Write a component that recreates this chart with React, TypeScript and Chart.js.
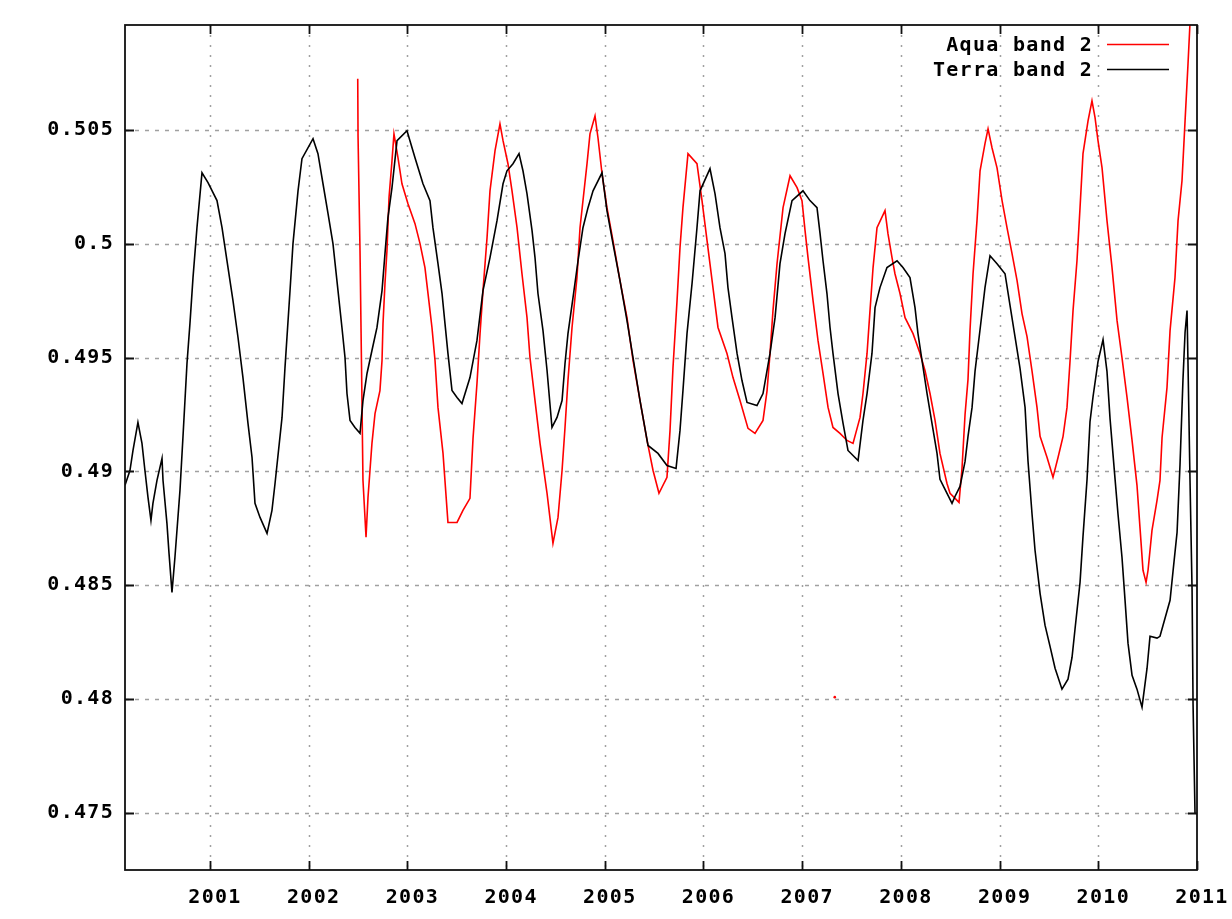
import React, { useEffect, useRef } from "react";
import { Chart, registerables } from "chart.js";

Chart.register(...registerables);

// Decimal-year sample times and reflectance values, Terra MODIS band 2
const terraYears = [
  2000.139, 2000.189, 2000.220, 2000.270, 2000.311, 2000.341, 2000.372, 2000.402, 2000.422, 2000.463,
  2000.514, 2000.524, 2000.564, 2000.585, 2000.615, 2000.645, 2000.696, 2000.726, 2000.767, 2000.797,
  2000.828, 2000.868, 2000.919, 2000.980, 2001.071, 2001.122, 2001.172, 2001.233, 2001.284, 2001.334,
  2001.385, 2001.426, 2001.456, 2001.507, 2001.578, 2001.628, 2001.659, 2001.730, 2001.760, 2001.811,
  2001.841, 2001.892, 2001.932, 2002.044, 2002.094, 2002.145, 2002.196, 2002.246, 2002.297, 2002.337,
  2002.368, 2002.388, 2002.419, 2002.469, 2002.520, 2002.550, 2002.591, 2002.641, 2002.692, 2002.743,
  2002.773, 2002.803, 2002.844, 2002.895, 2002.996, 2003.077, 2003.158, 2003.229, 2003.259, 2003.310,
  2003.351, 2003.381, 2003.411, 2003.452, 2003.503, 2003.553, 2003.634, 2003.705, 2003.766, 2003.837,
  2003.908, 2003.969, 2004.009, 2004.070, 2004.131, 2004.171, 2004.212, 2004.263, 2004.293, 2004.323,
  2004.374, 2004.415, 2004.465, 2004.516, 2004.567, 2004.597, 2004.627, 2004.678, 2004.729, 2004.779,
  2004.830, 2004.881, 2004.972, 2005.022, 2005.083, 2005.154, 2005.225, 2005.286, 2005.357, 2005.438,
  2005.539, 2005.630, 2005.722, 2005.762, 2005.792, 2005.833, 2005.884, 2005.934, 2005.965, 2006.066,
  2006.117, 2006.167, 2006.218, 2006.248, 2006.289, 2006.340, 2006.390, 2006.441, 2006.542, 2006.603,
  2006.674, 2006.725, 2006.775, 2006.826, 2006.897, 2007.008, 2007.079, 2007.150, 2007.181, 2007.211,
  2007.251, 2007.282, 2007.312, 2007.363, 2007.414, 2007.464, 2007.566, 2007.616, 2007.657, 2007.707,
  2007.738, 2007.788, 2007.859, 2007.961, 2008.021, 2008.092, 2008.143, 2008.173, 2008.214, 2008.265,
  2008.315, 2008.366, 2008.396, 2008.447, 2008.518, 2008.548, 2008.599, 2008.650, 2008.680, 2008.721,
  2008.751, 2008.802, 2008.852, 2008.903, 2008.974, 2009.055, 2009.106, 2009.156, 2009.207, 2009.258,
  2009.288, 2009.329, 2009.359, 2009.410, 2009.460, 2009.511, 2009.562, 2009.632, 2009.693, 2009.734,
  2009.764, 2009.815, 2009.845, 2009.886, 2009.916, 2009.947, 2009.997, 2010.048, 2010.088, 2010.119,
  2010.170, 2010.200, 2010.240, 2010.271, 2010.301, 2010.342, 2010.392, 2010.443, 2010.494, 2010.524,
  2010.595, 2010.625, 2010.676, 2010.727, 2010.757, 2010.798, 2010.828, 2010.858, 2010.879, 2010.899,
  2010.909, 2010.929, 2010.950, 2010.960, 2010.980,
];

const terraValues = [
  0.48939, 0.49004, 0.49092, 0.49215, 0.49123, 0.49004, 0.48886, 0.48785, 0.48860, 0.48961,
  0.49057, 0.48961, 0.48772, 0.48640, 0.48469, 0.48623, 0.48917, 0.49149, 0.49474, 0.49649,
  0.49851, 0.50070, 0.50311, 0.50268, 0.50189, 0.50070, 0.49925, 0.49750, 0.49588, 0.49412,
  0.49211, 0.49061, 0.48860, 0.48798, 0.48728, 0.48829, 0.48947, 0.49237, 0.49456, 0.49794,
  0.50000, 0.50232, 0.50373, 0.50461, 0.50395, 0.50263, 0.50132, 0.50000, 0.49794, 0.49632,
  0.49500, 0.49342, 0.49224, 0.49193, 0.49167, 0.49311, 0.49430, 0.49531, 0.49632, 0.49794,
  0.49956, 0.50114, 0.50246, 0.50452, 0.50496, 0.50377, 0.50263, 0.50189, 0.50070, 0.49912,
  0.49781, 0.49649, 0.49518, 0.49355, 0.49325, 0.49298, 0.49412, 0.49575, 0.49794, 0.49939,
  0.50101, 0.50263, 0.50320, 0.50351, 0.50395, 0.50320, 0.50219, 0.50057, 0.49939, 0.49781,
  0.49618, 0.49443, 0.49193, 0.49237, 0.49311, 0.49474, 0.49605, 0.49763, 0.49925, 0.50070,
  0.50158, 0.50232, 0.50311, 0.50145, 0.50000, 0.49838, 0.49662, 0.49500, 0.49311, 0.49114,
  0.49079, 0.49026, 0.49013, 0.49180, 0.49355, 0.49605, 0.49825, 0.50070, 0.50232, 0.50329,
  0.50219, 0.50070, 0.49956, 0.49807, 0.49675, 0.49518, 0.49399, 0.49303, 0.49289, 0.49342,
  0.49518, 0.49675, 0.49912, 0.50044, 0.50189, 0.50232, 0.50189, 0.50158, 0.50044, 0.49925,
  0.49781, 0.49632, 0.49518, 0.49342, 0.49211, 0.49092, 0.49048, 0.49224, 0.49342, 0.49518,
  0.49719, 0.49807, 0.49895, 0.49925, 0.49895, 0.49851, 0.49719, 0.49605, 0.49487, 0.49342,
  0.49211, 0.49079, 0.48965, 0.48921, 0.48860, 0.48890, 0.48934, 0.49044, 0.49154, 0.49281,
  0.49439, 0.49623, 0.49807, 0.49947, 0.49912, 0.49868, 0.49728, 0.49592, 0.49452, 0.49281,
  0.49044, 0.48811, 0.48654, 0.48465, 0.48325, 0.48232, 0.48136, 0.48044, 0.48088, 0.48184,
  0.48307, 0.48513, 0.48715, 0.48965, 0.49219, 0.49329, 0.49482, 0.49579, 0.49439, 0.49232,
  0.48965, 0.48811, 0.48623, 0.48434, 0.48246, 0.48105, 0.48044, 0.47965, 0.48136, 0.48276,
  0.48268, 0.48276, 0.48355, 0.48434, 0.48561, 0.48732, 0.49031, 0.49404, 0.49610, 0.49706,
  0.49469, 0.48965, 0.48482, 0.47978, 0.47496,
];

// Aqua MODIS band 2
const aquaYears = [
  2002.497, 2002.500, 2002.520, 2002.535, 2002.550, 2002.581, 2002.601, 2002.621, 2002.641, 2002.672,
  2002.722, 2002.743, 2002.753, 2002.773, 2002.793, 2002.814, 2002.844, 2002.864, 2002.905, 2002.945,
  2003.006, 2003.077, 2003.128, 2003.178, 2003.209, 2003.249, 2003.280, 2003.310, 2003.361, 2003.411,
  2003.503, 2003.563, 2003.634, 2003.665, 2003.705, 2003.736, 2003.766, 2003.807, 2003.837, 2003.888,
  2003.938, 2003.969, 2004.019, 2004.060, 2004.111, 2004.161, 2004.212, 2004.242, 2004.293, 2004.344,
  2004.415, 2004.475, 2004.526, 2004.567, 2004.597, 2004.627, 2004.668, 2004.718, 2004.749, 2004.820,
  2004.850, 2004.901, 2004.931, 2004.972, 2005.022, 2005.083, 2005.154, 2005.225, 2005.286, 2005.357,
  2005.428, 2005.489, 2005.549, 2005.630, 2005.661, 2005.691, 2005.732, 2005.762, 2005.792, 2005.843,
  2005.934, 2005.985, 2006.036, 2006.096, 2006.147, 2006.238, 2006.299, 2006.370, 2006.451, 2006.522,
  2006.603, 2006.644, 2006.674, 2006.704, 2006.745, 2006.806, 2006.877, 2006.948, 2006.998, 2007.029,
  2007.059, 2007.110, 2007.160, 2007.211, 2007.262, 2007.312, 2007.383, 2007.454, 2007.515, 2007.586,
  2007.616, 2007.657, 2007.687, 2007.718, 2007.758, 2007.839, 2007.869, 2007.910, 2007.940, 2007.991,
  2008.042, 2008.123, 2008.194, 2008.244, 2008.295, 2008.346, 2008.396, 2008.467, 2008.498, 2008.589,
  2008.619, 2008.650, 2008.680, 2008.700, 2008.731, 2008.771, 2008.802, 2008.852, 2008.883, 2008.923,
  2008.974, 2009.025, 2009.075, 2009.126, 2009.177, 2009.227, 2009.278, 2009.329, 2009.379, 2009.410,
  2009.481, 2009.541, 2009.592, 2009.643, 2009.683, 2009.714, 2009.744, 2009.784, 2009.815, 2009.845,
  2009.896, 2009.936, 2009.967, 2009.997, 2010.038, 2010.088, 2010.139, 2010.190, 2010.240, 2010.291,
  2010.342, 2010.392, 2010.423, 2010.453, 2010.484, 2010.504, 2010.544, 2010.595, 2010.625, 2010.646,
  2010.696, 2010.727, 2010.777, 2010.808, 2010.848, 2010.879, 2010.909, 2010.940,
];

const aquaValues = [
  0.50724, 0.50474, 0.49969, 0.49474, 0.48961, 0.48711, 0.48886, 0.49004, 0.49123, 0.49254,
  0.49355, 0.49487, 0.49649, 0.49825, 0.49969, 0.50202, 0.50364, 0.50482, 0.50377, 0.50263,
  0.50175, 0.50088, 0.50000, 0.49895, 0.49781, 0.49632, 0.49487, 0.49281, 0.49079, 0.48776,
  0.48776, 0.48829, 0.48882, 0.49145, 0.49386, 0.49605, 0.49794, 0.50026, 0.50232, 0.50408,
  0.50526, 0.50452, 0.50351, 0.50232, 0.50070, 0.49868, 0.49675, 0.49500, 0.49311, 0.49123,
  0.48904, 0.48684, 0.48798, 0.49004, 0.49193, 0.49399, 0.49632, 0.49851, 0.50070, 0.50351,
  0.50482, 0.50561, 0.50465, 0.50307, 0.50158, 0.50013, 0.49838, 0.49675, 0.49487, 0.49311,
  0.49136, 0.49004, 0.48904, 0.48974, 0.49180, 0.49456, 0.49750, 0.49982, 0.50158, 0.50395,
  0.50351, 0.50189, 0.50013, 0.49807, 0.49632, 0.49518, 0.49412, 0.49311, 0.49189, 0.49167,
  0.49224, 0.49355, 0.49518, 0.49706, 0.49912, 0.50158, 0.50298, 0.50246, 0.50189, 0.50057,
  0.49939, 0.49750, 0.49575, 0.49430, 0.49281, 0.49193, 0.49167, 0.49136, 0.49123, 0.49237,
  0.49342, 0.49518, 0.49706, 0.49895, 0.50070, 0.50145, 0.50044, 0.49939, 0.49868, 0.49781,
  0.49675, 0.49605, 0.49518, 0.49443, 0.49342, 0.49224, 0.49079, 0.48947, 0.48904, 0.48864,
  0.49013, 0.49250, 0.49404, 0.49618, 0.49868, 0.50101, 0.50320, 0.50439, 0.50504, 0.50421,
  0.50333, 0.50189, 0.50070, 0.49956, 0.49838, 0.49693, 0.49592, 0.49439, 0.49281, 0.49154,
  0.49061, 0.48974, 0.49061, 0.49154, 0.49281, 0.49487, 0.49706, 0.49925, 0.50158, 0.50395,
  0.50539, 0.50627, 0.50553, 0.50452, 0.50333, 0.50101, 0.49895, 0.49662, 0.49500, 0.49325,
  0.49136, 0.48939, 0.48750, 0.48566, 0.48513, 0.48566, 0.48741, 0.48873, 0.48961, 0.49149,
  0.49368, 0.49618, 0.49851, 0.50101, 0.50276, 0.50539, 0.50790, 0.51066,
];

// Isolated Aqua sample with no neighbours to join
const aquaLoneYears = [2007.33];
const aquaLoneValues = [0.48009];

const seriesNames = ["Aqua band 2", "Terra band 2"];
const seriesColors = ["#ff0000", "#000000"];

const yearTicks = [2001, 2002, 2003, 2004, 2005, 2006, 2007, 2008, 2009, 2010, 2011];
const valueTicks = [0.475, 0.48, 0.485, 0.49, 0.495, 0.5, 0.505];
const valueLabels = ["0.475", "0.48", "0.485", "0.49", "0.495", "0.5", "0.505"];

const X_MIN = 2000.139;
const X_MAX = 2011;
const Y_MIN = 0.4725;
const Y_MAX = 0.5096;

const FONT_FAMILY = "'DejaVu Sans Mono', monospace";
const LETTER_SPACING = "1.3px";
const tickFont = { family: FONT_FAMILY, size: 20, weight: "bold" as const };

// Dotted grid, black frame with inward tick marks, and the key in the top-right corner
const framePlugin = {
  id: "gnuFrame",
  beforeDraw(chart: any) {
    // wide bitmap-style lettering for all text on the canvas
    chart.ctx.letterSpacing = LETTER_SPACING;
  },
  beforeDatasetsDraw(chart: any) {
    const { ctx, chartArea: a, scales } = chart;
    const xs = scales.x;
    const ys = scales.y;
    ctx.save();
    ctx.strokeStyle = "#a0a0a0";
    ctx.lineWidth = 1.5;
    ctx.setLineDash([4, 6]);
    for (const v of valueTicks) {
      const py = Math.round(ys.getPixelForValue(v)) + 0.5;
      ctx.beginPath();
      ctx.moveTo(a.left, py);
      ctx.lineTo(a.right, py);
      ctx.stroke();
    }
    ctx.setLineDash([2, 8]);
    for (const t of yearTicks) {
      if (t >= X_MAX) continue;
      const px = Math.round(xs.getPixelForValue(t)) + 0.5;
      ctx.beginPath();
      ctx.moveTo(px, a.top);
      ctx.lineTo(px, a.bottom);
      ctx.stroke();
    }
    ctx.restore();
  },
  afterDatasetsDraw(chart: any) {
    const { ctx, chartArea: a, scales } = chart;
    const xs = scales.x;
    const ys = scales.y;
    const tick = 9;
    ctx.save();
    ctx.setLineDash([]);
    ctx.strokeStyle = "#111";
    ctx.lineWidth = 1.8;
    ctx.strokeRect(a.left, a.top, a.right - a.left, a.bottom - a.top);
    ctx.beginPath();
    for (const t of yearTicks) {
      const px = Math.round(xs.getPixelForValue(t)) + 0.5;
      ctx.moveTo(px, a.bottom);
      ctx.lineTo(px, a.bottom - tick);
      ctx.moveTo(px, a.top);
      ctx.lineTo(px, a.top + tick);
    }
    for (const v of valueTicks) {
      const py = Math.round(ys.getPixelForValue(v)) + 0.5;
      ctx.moveTo(a.left, py);
      ctx.lineTo(a.left + tick, py);
      ctx.moveTo(a.right, py);
      ctx.lineTo(a.right - tick, py);
    }
    ctx.stroke();

    // key: right-aligned names followed by line samples
    ctx.font = `bold 20px ${FONT_FAMILY}`;
    ctx.letterSpacing = LETTER_SPACING;
    ctx.textAlign = "right";
    ctx.textBaseline = "middle";
    const textRight = a.right - 104;
    const sampleLeft = a.right - 90;
    const sampleRight = a.right - 28;
    seriesNames.forEach((name, i) => {
      const cy = a.top + 21 + i * 25;
      ctx.fillStyle = "#000";
      ctx.fillText(name, textRight, cy);
      ctx.strokeStyle = seriesColors[i];
      ctx.lineWidth = 1.5;
      ctx.beginPath();
      ctx.moveTo(sampleLeft, cy - 1.5);
      ctx.lineTo(sampleRight, cy - 1.5);
      ctx.stroke();
    });
    ctx.restore();
  },
  afterDraw(chart: any) {
    chart.ctx.letterSpacing = "0px";
  },
};

export default function App() {
  const canvasRef = useRef<HTMLCanvasElement | null>(null);

  useEffect(() => {
    const canvas = canvasRef.current;
    if (!canvas) return;

    const toPoints = (xs: number[], ys: number[]) => xs.map((x, i) => ({ x, y: ys[i] }));

    const chart = new Chart(canvas, {
      type: "line",
      data: {
        datasets: [
          {
            label: seriesNames[1],
            data: toPoints(terraYears, terraValues),
            borderColor: seriesColors[1],
            borderWidth: 1.6,
            pointRadius: 0,
            tension: 0,
            order: 0,
          },
          {
            label: seriesNames[0],
            data: toPoints(aquaYears, aquaValues),
            borderColor: seriesColors[0],
            borderWidth: 1.6,
            pointRadius: 0,
            tension: 0,
            order: 1,
          },
          {
            label: seriesNames[0],
            data: toPoints(aquaLoneYears, aquaLoneValues),
            showLine: false,
            pointRadius: 1.3,
            pointBorderWidth: 0,
            pointBackgroundColor: seriesColors[0],
            borderColor: seriesColors[0],
            order: 2,
          },
        ],
      },
      options: {
        animation: false,
        responsive: false,
        events: [],
        layout: { padding: { left: 0, top: 25, right: 35, bottom: 0 } },
        plugins: {
          legend: { display: false },
          tooltip: { enabled: false },
        },
        scales: {
          x: {
            type: "linear",
            min: X_MIN,
            max: X_MAX,
            grid: { display: false, drawTicks: false },
            border: { display: false },
            afterBuildTicks: (scale: any) => {
              scale.ticks = yearTicks.map((value) => ({ value }));
            },
            afterFit: (scale: any) => {
              scale.height = 49;
              scale.paddingLeft = 0;
              scale.paddingRight = 0;
            },
            ticks: {
              autoSkip: false,
              maxRotation: 0,
              minRotation: 0,
              padding: 16,
              labelOffset: 5,
              color: "#000",
              font: tickFont,
              callback: (value: any) => String(value),
            },
          },
          y: {
            type: "linear",
            min: Y_MIN,
            max: Y_MAX,
            grid: { display: false, drawTicks: false },
            border: { display: false },
            afterBuildTicks: (scale: any) => {
              scale.ticks = valueTicks.map((value) => ({ value }));
            },
            afterFit: (scale: any) => {
              scale.width = 125;
              scale.paddingTop = 0;
              scale.paddingBottom = 0;
            },
            ticks: {
              padding: 11,
              color: "#000",
              font: tickFont,
              callback: (value: any) => {
                const idx = valueTicks.findIndex((v) => Math.abs(v - value) < 1e-9);
                return idx >= 0 ? valueLabels[idx] : "";
              },
            },
          },
        },
      },
      plugins: [framePlugin],
    });

    return () => chart.destroy();
  }, []);

  return (
    <div style={{ position: "fixed", left: 0, top: 0, width: 1232, height: 919, background: "#fff" }}>
      <canvas ref={canvasRef} width={1232} height={919} style={{ display: "block" }} />
    </div>
  );
}
